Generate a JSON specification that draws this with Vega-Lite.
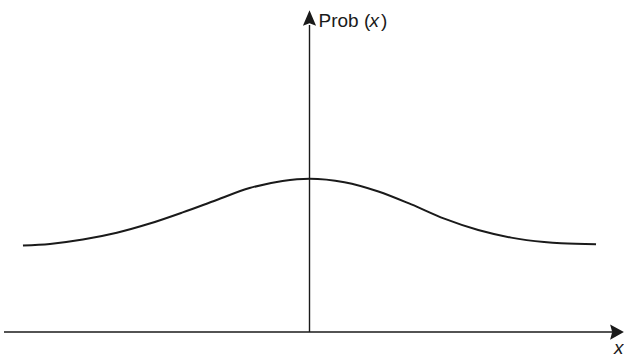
{
  "$schema": "https://vega.github.io/schema/vega-lite/v6.json",
  "autosize": {"type": "fit", "contains": "padding"},
  "width": 624,
  "height": 358,
  "padding": 0,
  "background": "white",
  "config": {"view": {"stroke": null}},
  "datasets": {
    "curve": [
      {"x": -2.87, "p": 0.867},
      {"x": -2.6, "p": 0.884},
      {"x": -2.27, "p": 0.928},
      {"x": -1.93, "p": 0.996},
      {"x": -1.6, "p": 1.088},
      {"x": -1.27, "p": 1.2},
      {"x": -0.93, "p": 1.325},
      {"x": -0.6, "p": 1.444},
      {"x": -0.27, "p": 1.516},
      {"x": 0.0, "p": 1.538},
      {"x": 0.35, "p": 1.503},
      {"x": 0.69, "p": 1.41},
      {"x": 1.02, "p": 1.28},
      {"x": 1.35, "p": 1.137},
      {"x": 1.69, "p": 1.023},
      {"x": 2.02, "p": 0.947},
      {"x": 2.35, "p": 0.903},
      {"x": 2.52, "p": 0.89},
      {"x": 2.87, "p": 0.88}
    ],
    "axes": [
      {"axis": "x", "x": -3.06, "x2": 3.03, "y": 0, "y2": 0},
      {"axis": "y", "x": 0, "x2": 0, "y": 0, "y2": 3.08}
    ],
    "arrowUp": [{"x": 0, "y": 3.15}],
    "arrowRight": [{"x": 3.08, "y": 0}],
    "labels": [
      {"x": 0.09, "y": 3.06, "text": "Prob (", "style": "normal"},
      {"x": 0.6, "y": 3.06, "text": "x", "style": "italic"},
      {"x": 0.715, "y": 3.06, "text": ")", "style": "normal"},
      {"x": 3.05, "y": -0.22, "text": "x", "style": "italic"}
    ]
  },
  "layer": [
    {
      "data": {"name": "axes"},
      "mark": {"type": "rule", "color": "#1a1a1a", "strokeWidth": 1.4},
      "encoding": {
        "x": {"field": "x", "type": "quantitative", "scale": {"domain": [-3.1, 3.14], "nice": false, "zero": false}, "axis": null},
        "x2": {"field": "x2"},
        "y": {"field": "y", "type": "quantitative", "scale": {"domain": [-0.25, 3.33], "nice": false, "zero": false}, "axis": null},
        "y2": {"field": "y2"}
      }
    },
    {
      "data": {"name": "curve"},
      "mark": {"type": "line", "color": "#1a1a1a", "strokeWidth": 2, "interpolate": "monotone"},
      "encoding": {
        "x": {"field": "x", "type": "quantitative"},
        "y": {"field": "p", "type": "quantitative"}
      }
    },
    {
      "data": {"name": "arrowUp"},
      "mark": {"type": "point", "shape": "M0,-1L-0.85,1L0,0.7L0.85,1Z", "filled": true, "size": 240, "color": "#1a1a1a", "opacity": 1, "strokeWidth": 0},
      "encoding": {
        "x": {"field": "x", "type": "quantitative"},
        "y": {"field": "y", "type": "quantitative"}
      }
    },
    {
      "data": {"name": "arrowRight"},
      "mark": {"type": "point", "shape": "M1,0L-1,-1.1L-0.7,0L-1,1.1Z", "filled": true, "size": 190, "color": "#1a1a1a", "opacity": 1, "strokeWidth": 0},
      "encoding": {
        "x": {"field": "x", "type": "quantitative"},
        "y": {"field": "y", "type": "quantitative"}
      }
    },
    {
      "data": {"name": "labels"},
      "transform": [{"filter": "datum.style === 'normal'"}],
      "mark": {"type": "text", "align": "left", "baseline": "alphabetic", "font": "Liberation Sans", "fontSize": 19, "color": "#1a1a1a"},
      "encoding": {
        "x": {"field": "x", "type": "quantitative"},
        "y": {"field": "y", "type": "quantitative"},
        "text": {"field": "text"}
      }
    },
    {
      "data": {"name": "labels"},
      "transform": [{"filter": "datum.style === 'italic'"}],
      "mark": {"type": "text", "align": "left", "baseline": "alphabetic", "font": "Liberation Sans", "fontSize": 19, "fontStyle": "italic", "color": "#1a1a1a"},
      "encoding": {
        "x": {"field": "x", "type": "quantitative"},
        "y": {"field": "y", "type": "quantitative"},
        "text": {"field": "text"}
      }
    }
  ]
}
